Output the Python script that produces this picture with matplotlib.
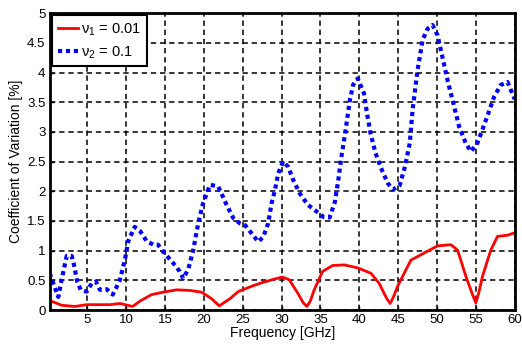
import matplotlib
matplotlib.use("Agg")
import matplotlib.pyplot as plt
from matplotlib.ticker import FuncFormatter

plt.rcParams['font.family'] = ['Liberation Sans', 'DejaVu Sans']
plt.rcParams['mathtext.fontset'] = 'custom'
plt.rcParams['mathtext.rm'] = 'Liberation Sans'
plt.rcParams['mathtext.it'] = 'Liberation Sans'

# nu1 = 0.01 (red, solid)
freq_1 = [0.15, 1.71, 3.42, 4.92, 7.92, 9.21, 10.84, 11.78, 13.28, 14.78, 16.5, 18.21,
          19.72, 21.0, 21.98, 23.35, 24.42, 26.15, 27.22, 29.05, 30.13, 30.98, 32.06,
          32.8, 33.26, 33.7, 34.2, 35.28, 36.57, 38.06, 39.78, 41.49, 42.56, 43.5, 43.98,
          44.4, 44.93, 46.64, 48.35, 50.07, 51.78, 52.65, 53.71, 54.6, 55.0, 55.4, 55.86,
          56.93, 57.79, 59.08, 60.0]
cov_1 = [0.16, 0.08, 0.06, 0.09, 0.09, 0.11, 0.06, 0.15, 0.26, 0.30, 0.34, 0.33,
         0.30, 0.19, 0.07, 0.19, 0.31, 0.40, 0.45, 0.52, 0.555, 0.51, 0.29,
         0.12, 0.06, 0.15, 0.34, 0.65, 0.75, 0.76, 0.71, 0.62, 0.45, 0.2, 0.11,
         0.22, 0.40, 0.84, 0.96, 1.08, 1.10, 1.01, 0.57, 0.25, 0.12, 0.3, 0.57,
         1.01, 1.24, 1.26, 1.30]

# nu2 = 0.1 (blue, dotted)
freq_2 = [0.15, 0.63, 1.27, 1.7, 2.35, 3.0, 3.29, 3.7, 4.15, 4.92, 5.57, 6.1, 6.63, 7.5,
          8.27, 8.78, 9.2, 9.85, 10.27, 11.1, 11.8, 12.64, 13.5, 14.1, 14.78, 16.06,
          16.9, 17.35, 18.0, 18.6, 19.28, 19.9, 20.8, 21.85, 22.93, 23.78, 24.64, 25.3,
          26.15, 27.0, 27.64, 28.28, 28.72, 29.15, 29.57, 30.2, 30.86, 31.5, 32.36,
          33.4, 34.3, 35.36, 36.2, 36.86, 37.3, 37.7, 38.15, 38.8, 39.2, 39.8, 40.6,
          41.0, 41.46, 42.1, 42.75, 43.1, 43.7, 44.36, 45.2, 45.87, 46.5, 46.86, 47.5,
          48.15, 48.8, 49.43, 50.07, 50.7, 51.36, 52.0, 52.85, 53.7, 54.36, 55.2, 56.3,
          57.35, 58.2, 59.08, 60.0]
cov_2 = [0.62, 0.45, 0.22, 0.51, 0.91, 0.91, 0.76, 0.48, 0.34, 0.31, 0.45, 0.48, 0.34, 0.35,
         0.26, 0.39, 0.51, 0.85, 1.16, 1.40, 1.33, 1.16, 1.10, 1.10, 0.98, 0.79,
         0.65, 0.53, 0.69, 0.99, 1.46, 1.80, 2.11, 2.08, 1.77, 1.55, 1.46, 1.43,
         1.29, 1.15, 1.23, 1.46, 1.80, 2.02, 2.30, 2.50, 2.41, 2.19, 1.96,
         1.77, 1.68, 1.57, 1.56, 1.82, 2.19, 2.58, 2.95, 3.54, 3.79, 3.90, 3.65,
         3.31, 2.97, 2.64, 2.41, 2.30, 2.13, 2.03, 2.10, 2.41, 2.81, 3.37, 4.04,
         4.55, 4.74, 4.80, 4.63, 4.26, 3.87, 3.54, 3.09, 2.81, 2.67, 2.81, 3.2,
         3.59, 3.79, 3.84, 3.55]

xticks = [5, 10, 15, 20, 25, 30, 35, 40, 45, 50, 55, 60]
yticks = [0, 0.5, 1, 1.5, 2, 2.5, 3, 3.5, 4, 4.5, 5]

fig = plt.figure(figsize=(5.22, 3.46), dpi=100)
ax = fig.add_axes([0.095, 0.104, 0.891, 0.858])

ax.plot(freq_1, cov_1, '-', color='red', linewidth=2, label=r'$\nu_1$ = 0.01')
ax.plot(freq_2, cov_2, color='blue', linewidth=3, linestyle=(0, (1, 0.9)),
        dash_capstyle='butt', label=r'$\nu_2$ = 0.1')

ax.set_xlim(0.15, 60)
ax.set_ylim(0, 5)
ax.set_xticks(xticks)
ax.set_yticks(yticks)
ax.yaxis.set_major_formatter(FuncFormatter(lambda v, p: '%g' % v))
ax.tick_params(direction='in', length=3, width=1, labelsize=9.5, pad=3)
ax.grid(True, color='black', linestyle=(0, (3.5, 2.5)), linewidth=1.1)
ax.set_axisbelow(True)
for s in ax.spines.values():
    s.set_linewidth(2)

ax.set_xlabel('Frequency [GHz]', fontsize=10, labelpad=0)
ax.set_ylabel('Coefficient of Variation [%]', fontsize=10, labelpad=3)

leg = ax.legend(loc='upper left', fontsize=10.5, fancybox=False, framealpha=1,
                edgecolor='black', borderaxespad=0.15, handlelength=1.4,
                handletextpad=0.2, borderpad=0.4, labelspacing=0.45)
leg.get_frame().set_linewidth(1.5)

fig.savefig('out.png', dpi=100)
